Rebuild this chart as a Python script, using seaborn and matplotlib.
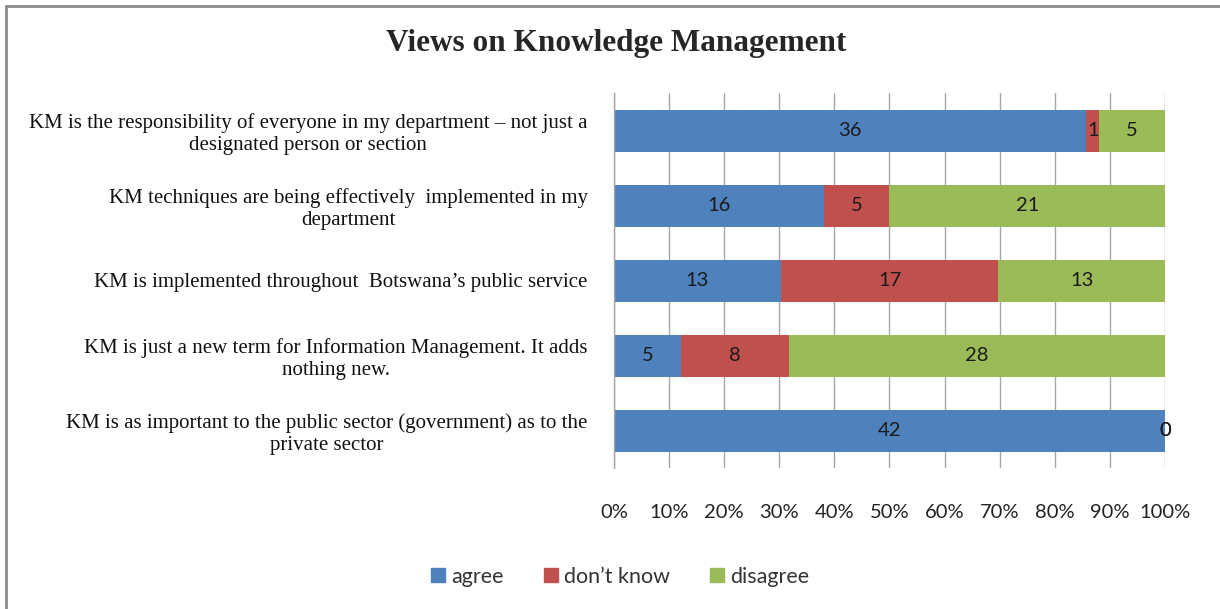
import matplotlib
matplotlib.use('Agg')
import matplotlib.pyplot as plt
import seaborn as sns
import pandas as pd
from matplotlib.lines import Line2D

statements = [
    'KM is the responsibility of everyone in my department – not just a\ndesignated person or section',
    'KM techniques are being effectively  implemented in my\ndepartment',
    'KM is implemented throughout  Botswana’s public service',
    'KM is just a new term for Information Management. It adds\nnothing new.',
    'KM is as important to the public sector (government) as to the\nprivate sector',
]
series = ['agree', 'don’t know', 'disagree']
agree = [36, 16, 13, 5, 42]
dont_know = [1, 5, 17, 8, 0]
disagree = [5, 21, 13, 28, 0]
colors = ['#4F81BD', '#C0504D', '#9BBB59']

df = pd.DataFrame({'statement': statements, 'agree': agree,
                   'don’t know': dont_know, 'disagree': disagree})
total = df[series].sum(axis=1)
pct = df[series].div(total, axis=0) * 100
cum = pct.cumsum(axis=1)
left = cum - pct

sns.set_style('white')
fig = plt.figure(figsize=(12.2, 6.09), dpi=100)
ax = fig.add_axes([614 / 1220, 1 - 468 / 609, 551 / 1220, 375 / 609])

ax.set_axisbelow(True)
ax.xaxis.grid(True, color='#A6A6A6', linewidth=1)

# stacked layers drawn from the outermost in
for s, c in reversed(list(zip(series, colors))):
    sns.barplot(x=cum[s], y=df['statement'], orient='h', color=c,
                width=0.56, ax=ax, linewidth=0, saturation=1)

for i in range(len(df)):
    for s in series:
        ax.text(left.loc[i, s] + pct.loc[i, s] / 2, i, str(df.loc[i, s]),
                ha='center', va='center', fontsize=14.5, family='Lato',
                color='#1a1a1a')

ax.set_xlim(0, 100)
ax.set_ylim(4.5, -0.5)
ax.set_xticks(range(0, 101, 10))
ax.set_xticklabels([f'{v}%' for v in range(0, 101, 10)], family='Lato',
                   fontsize=14.5, color='#222222')
ax.tick_params(axis='x', length=0, pad=26)
ax.tick_params(axis='y', length=0, pad=19)
for lab in ax.get_yticklabels():
    lab.set_family('Liberation Serif')
    lab.set_fontsize(15)
    lab.set_multialignment('center')
    lab.set_color('#111111')
ax.set_xlabel('')
ax.set_ylabel('')
for side in ['top', 'right', 'bottom']:
    ax.spines[side].set_visible(False)
ax.spines['left'].set_color('#A6A6A6')
ax.spines['left'].set_linewidth(1)

leg = fig.legend([Line2D([], [], marker='s', linestyle='', markersize=10,
                         color=c) for c in colors], series,
                 loc='center', bbox_to_anchor=(0.506, 1 - 577 / 609),
                 ncol=3, frameon=False, prop={'family': 'Lato', 'size': 15.5},
                 handletextpad=0.0, columnspacing=1.6, handlelength=1.2)
for t in leg.get_texts():
    t.set_color('#333333')

fig.text(0.505, 1 - 43 / 609, 'Views on Knowledge Management', ha='center',
         va='center', family='Liberation Serif', fontweight='bold', fontsize=22.5)

fig.add_artist(Line2D([6 / 1220, 6 / 1220], [0, 1 - 6 / 609],
                      transform=fig.transFigure, color='#8C8C8C', linewidth=2))
fig.add_artist(Line2D([6 / 1220, 1], [1 - 6 / 609, 1 - 6 / 609],
                      transform=fig.transFigure, color='#8C8C8C', linewidth=2))

fig.savefig('out.png', dpi=100)
